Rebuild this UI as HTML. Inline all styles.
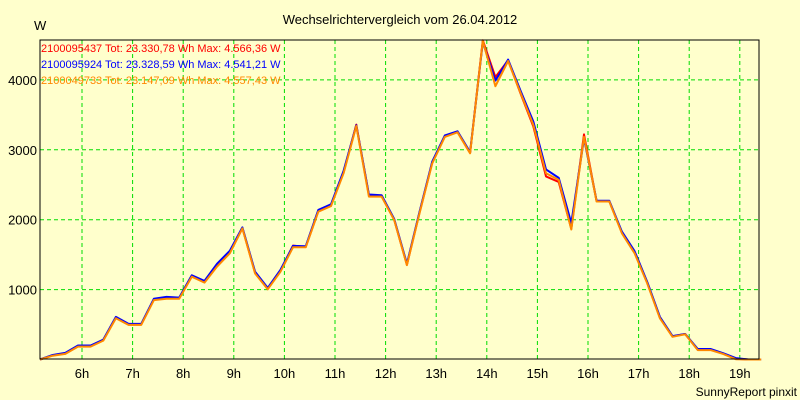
<!DOCTYPE html>
<html><head><meta charset="utf-8"><style>
html,body{margin:0;padding:0;background:#ffffcc;}
svg{display:block;font-family:"Liberation Sans",Arial,sans-serif;}
</style></head><body>
<svg id="chart" width="800" height="400" viewBox="0 0 800 400" xmlns="http://www.w3.org/2000/svg">
<rect x="0" y="0" width="800" height="400" fill="#ffffcc"/>
<text x="400" y="24" text-anchor="middle" font-size="13" fill="#000">Wechselrichtervergleich vom 26.04.2012</text>
<text x="34" y="30" font-size="13" fill="#000">W</text>
<text x="797" y="396" text-anchor="end" font-size="12" fill="#000">SunnyReport pinxit</text>
<g id="grid"></g>
<g id="ylabels"></g>
<g id="xlabels"></g>
<g id="series"></g>
<rect x="40" y="40" width="719" height="319" fill="none" stroke="#000" stroke-width="1"/>
<g font-size="11">
<text x="41" y="52" fill="#ff0000">2100095437 Tot: 23.330,78 Wh Max: 4.566,36 W</text>
<text x="41" y="68" fill="#0000ff">2100095924 Tot: 23.328,59 Wh Max: 4.541,21 W</text>
<text x="41" y="84" fill="#ff8800">2100049733 Tot: 23.147,09 Wh Max: 4.557,43 W</text>
</g>
</svg>
<script>
const times = [];
for (let k = 0; k < 58; k++) times.push(5.17 + 0.25 * k);
const orangeValues = [0,55,80,185,185,270,590,495,495,850,870,870,1185,1100,1330,1520,1875,1230,1005,1255,1605,1605,2115,2195,2665,3340,2330,2330,1995,1350,2090,2805,3185,3250,2950,4557,3910,4270,3810,3355,2665,2570,1860,3185,2260,2260,1805,1520,1090,590,325,360,135,135,80,5,0,0];
const redValues = [0,60,85,190,190,280,600,500,500,860,880,880,1200,1110,1340,1530,1880,1240,1010,1265,1630,1610,2125,2205,2680,3360,2350,2340,2000,1355,2100,2815,3195,3260,2955,4566,4040,4280,3800,3330,2620,2540,1870,3220,2265,2265,1815,1530,1100,600,330,365,140,140,85,10,0,0];
const blueValues = [0,65,95,200,200,285,610,510,510,870,895,885,1205,1125,1370,1555,1890,1255,1025,1280,1625,1620,2140,2220,2700,3350,2360,2350,2010,1370,2110,2830,3205,3265,2965,4541,3990,4290,3840,3400,2720,2600,1950,3160,2270,2270,1830,1550,1110,610,335,365,150,150,90,20,0,0];
const yTicks = [1000,2000,3000,4000];
const xTicks = [6,7,8,9,10,11,12,13,14,15,16,17,18,19];
const xTickLabels = ["6h","7h","8h","9h","10h","11h","12h","13h","14h","15h","16h","17h","18h","19h"];

const NS = "http://www.w3.org/2000/svg";
function xScale(h){ return 82 + (h - 6) * 50.6; }
function yScale(v){ return 359.5 - v * 0.0699; }

const grid = document.getElementById('grid');
const yl = document.getElementById('ylabels');
const xl = document.getElementById('xlabels');
yTicks.forEach(v => {
  const y = yScale(v);
  const l = document.createElementNS(NS,'line');
  
  
  l.setAttribute('x1',40); l.setAttribute('x2',759); l.setAttribute('y1',y); l.setAttribute('y2',y);
  l.setAttribute('stroke','#00dd00'); l.setAttribute('stroke-dasharray','4,3');
  grid.appendChild(l);
  const t = document.createElementNS(NS,'text');
  
  
  t.setAttribute('x',37); t.setAttribute('y',y+5); t.setAttribute('text-anchor','end'); t.setAttribute('font-size','13');
  t.textContent = v; yl.appendChild(t);
});
xTicks.forEach((h,i) => {
  const x = xScale(h);
  const l = document.createElementNS(NS,'line');
  
  
  l.setAttribute('x1',x); l.setAttribute('x2',x); l.setAttribute('y1',40); l.setAttribute('y2',359);
  l.setAttribute('stroke','#00dd00'); l.setAttribute('stroke-dasharray','4,3');
  grid.appendChild(l);
  const t = document.createElementNS(NS,'text');
  
  
  t.setAttribute('x',x); t.setAttribute('y',378); t.setAttribute('text-anchor','middle'); t.setAttribute('font-size','13');
  t.textContent = xTickLabels[i]; xl.appendChild(t);
});
const sg = document.getElementById('series');
function drawSeries(vals, color, name){
  const p = document.createElementNS(NS,'polyline');
  
  
  p.setAttribute('points', vals.map((v,i)=> xScale(times[i]).toFixed(1)+','+yScale(v).toFixed(1)).join(' '));
  p.setAttribute('fill','none'); p.setAttribute('stroke',color); p.setAttribute('stroke-width','2');
  p.setAttribute('stroke-linejoin','round');
  sg.appendChild(p);
}
drawSeries(redValues,'#ff0000','series-red-line');
drawSeries(blueValues,'#0000ff','series-blue-line');
drawSeries(orangeValues,'#ff8800','series-orange-line');
</script>
</body></html>
